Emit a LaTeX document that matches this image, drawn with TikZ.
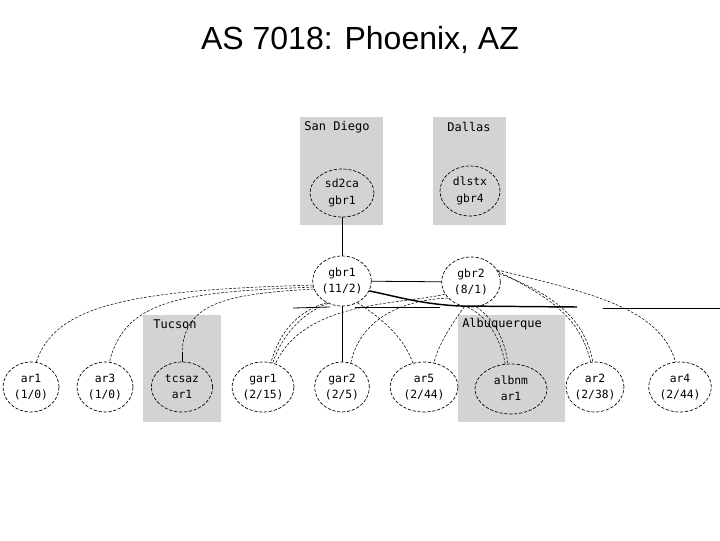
\documentclass[tikz,border=0pt]{standalone}
\usepackage{fontspec}
\setmainfont{Liberation Sans}
\newfontfamily\monof{DejaVu Sans Mono}
\usetikzlibrary{shapes.geometric}
\definecolor{clgray}{RGB}{211,211,211}
\newcommand\twol[2]{\vphantom{(}#1\\\vphantom{(}#2}
\tikzset{
  rnode/.style={ellipse, draw, dash pattern=on 2.4pt off 1.3pt, line width=0.5pt,
    inner sep=0pt, minimum width=44pt, minimum height=37.5pt, align=center,
    font=\monof\fontsize{8.5}{12.5}\selectfont},
  cllabel/.style={font=\monof\fontsize{9}{11}\selectfont, inner sep=0pt},
  sedge/.style={line width=0.6pt},
  dedge/.style={line width=0.4pt, dash pattern=on 2pt off 1.2pt},
  thick edge/.style={line width=1.1pt}
}
\begin{document}
\begin{tikzpicture}[x=0.75pt,y=-0.75pt]
\useasboundingbox (0,0) rectangle (720,540);
% title
\node[font=\fontsize{24}{28}\selectfont, inner sep=0pt] (title) at (360,40) {AS 7018: Phoenix, AZ};
% clusters
\fill[clgray] (300,117) rectangle (383,225);
\fill[clgray] (433,117) rectangle (506,225);
\fill[clgray] (143,315) rectangle (221,422);
\fill[clgray] (458,315) rectangle (565,422);
\node[cllabel] (lsd) at (337,127) {San Diego};
\node[cllabel] (ldal) at (469,127) {Dallas};
\node[cllabel] (ltuc) at (175,324) {Tucson};
\node[cllabel] (lalb) at (502,324) {Albuquerque};
% nodes
\node[rnode, minimum width=48pt, minimum height=36pt] (sd2ca) at (342,193) {\twol{sd2ca}{gbr1}};
\node[rnode, minimum width=45pt] (dlstx) at (470,191) {\twol{dlstx}{gbr4}};
\node[rnode] (gbr1) at (342,281) {\twol{gbr1}{(11/2)}};
\node[rnode] (gbr2) at (471,282) {\twol{gbr2}{(8/1)}};
\node[rnode, minimum width=42pt] (ar1) at (31,387) {\twol{ar1}{(1/0)}};
\node[rnode, minimum width=42pt] (ar3) at (105,387) {\twol{ar3}{(1/0)}};
\node[rnode, minimum width=46pt] (tcsaz) at (182,387) {\twol{tcsaz}{ar1}};
\node[rnode, minimum width=46.5pt] (gar1) at (263,387) {\twol{gar1}{(2/15)}};
\node[rnode, minimum width=41pt] (gar2) at (342,387) {\twol{gar2}{(2/5)}};
\node[rnode, minimum width=51pt] (ar5) at (424,387) {\twol{ar5}{(2/44)}};
\node[rnode, minimum width=54pt] (albnm) at (511,389) {\twol{albnm}{ar1}};
\node[rnode, minimum width=43pt] (ar2) at (595,387) {\twol{ar2}{(2/38)}};
\node[rnode, minimum width=47pt] (ar4) at (680,387) {\twol{ar4}{(2/44)}};
\coordinate (r1) at (577,307);
\coordinate (r2) at (603,308);
\coordinate (r3) at (720,308);
\coordinate (l1) at (293,308);
\coordinate (l2) at (330,307);
\coordinate (m1) at (355,307);
\coordinate (m2) at (440,307);
\coordinate (t1) at (182,352);
% solid edges
\draw[sedge] (sd2ca) -- (gbr1);
\draw[sedge] (gbr1) -- (gbr2);
\draw[sedge] (gbr1) -- (gar2);
\draw[thick edge] (gbr1.340) .. controls (395,296) and (420,304) .. (460,306) -- (r1);
\draw[sedge] (r2) -- (r3);
\draw[sedge] (l1) -- (l2);
\draw[sedge] (m1) -- (m2);
\draw[sedge] (t1) -- (tcsaz);
% dashed edges from gbr1
\draw[dedge] (gbr1.188) .. controls (130,290) and (55,305) .. (ar1.78);
\draw[dedge] (gbr1.192) .. controls (180,292) and (125,300) .. (ar3.80);
\draw[dedge] (gbr1.196) .. controls (220,294) and (185,305) .. (t1);
\draw[dedge] (gbr1.235) .. controls (300,310) and (280,330) .. (gar1.72);
\draw[dedge] (gbr1.238) .. controls (303,313) and (283,333) .. (gar1.68);
\draw[dedge] (gbr1.305) .. controls (385,320) and (405,340) .. (ar5.115);
% dashed edges from gbr2
\draw[dedge] (gbr2.205) .. controls (400,305) and (305,300) .. (gar1.62);
\draw[dedge] (gbr2.215) .. controls (400,300) and (360,320) .. (gar2.70);
\draw[dedge] (gbr2.255) .. controls (455,320) and (440,340) .. (ar5.68);
\draw[dedge] (gbr2.262) .. controls (485,315) and (500,335) .. (albnm.103);
\draw[dedge] (gbr2.282) .. controls (495,320) and (505,340) .. (albnm.97);
\draw[dedge] (gbr2.22) .. controls (545,295) and (580,315) .. (ar2.100);
\draw[dedge] (gbr2.17) .. controls (548,292) and (584,315) .. (ar2.95);
\draw[dedge] (gbr2.25) .. controls (600,295) and (660,310) .. (ar4.100);
\end{tikzpicture}
\end{document}
